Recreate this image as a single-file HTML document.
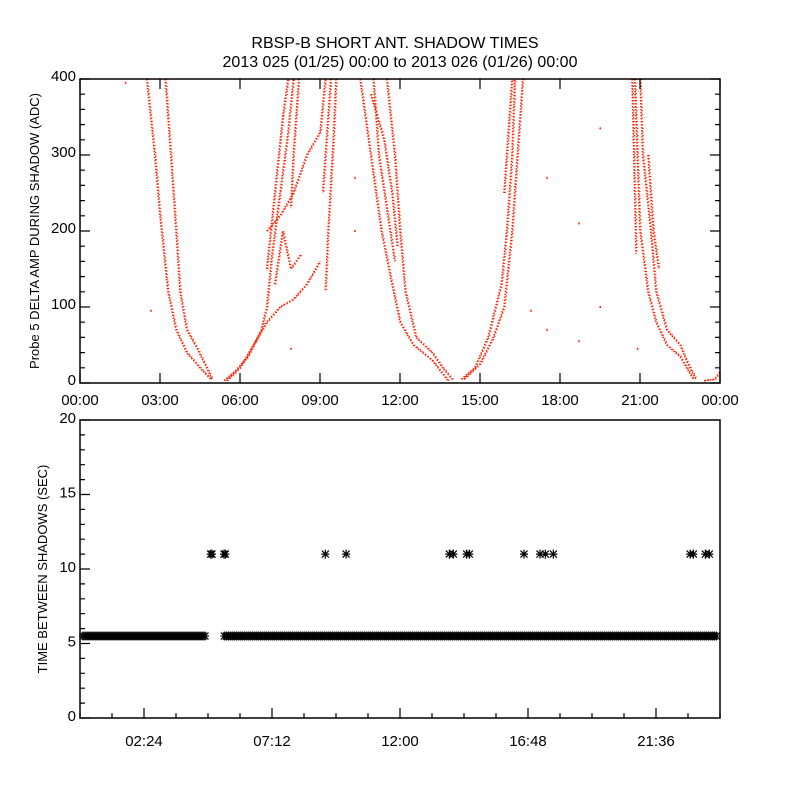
<!DOCTYPE html>
<html><head><meta charset="utf-8"><style>
body{margin:0;background:#fff;}
svg{display:block;font-family:"Liberation Sans",sans-serif;}
</style></head><body>
<svg id="chart" width="800" height="800" xmlns="http://www.w3.org/2000/svg">
<rect width="800" height="800" fill="#fff"/>
<text x="395" y="48" text-anchor="middle" font-size="16">RBSP-B SHORT ANT. SHADOW TIMES</text>
<text x="400" y="67" text-anchor="middle" font-size="16">2013 025 (01/25) 00:00 to 2013 026 (01/26) 00:00</text>
<g id="topPanel"></g>
<g id="botPanel"></g>
</svg>
<script>
// ---- Top panel data: traces of (hour, amplitude) ----
const traceA_h=[2.5,2.8,3.0,3.3,3.6,4.0,4.5,4.9];
const traceA_v=[400,300,220,120,70,40,20,5];
const traceB_h=[3.2,3.4,3.6,3.75,4.0,4.4,4.75,4.95];
const traceB_v=[400,300,200,120,70,45,20,5];
const traceC_h=[5.4,5.8,6.3,6.8,7.0,7.2,7.5,7.8,8.0];
const traceC_v=[3,15,35,70,100,170,250,330,400];
const traceD_h=[5.5,6.0,6.5,7.0,7.5,8.0,8.5,9.0];
const traceD_v=[3,20,50,80,100,110,130,160];
const traceE_h=[7.0,7.5,8.0,8.5,9.0,9.2];
const traceE_v=[200,220,250,300,330,400];
const traceF_h=[7.3,7.6,7.9,8.3];
const traceF_v=[130,200,150,170];
const traceG_h=[10.5,10.9,11.3,11.7,12.0,12.5,13.2,13.8];
const traceG_v=[400,300,200,130,80,50,30,3];
const traceH_h=[11.5,11.8,12.0,12.2,12.6,13.2,13.6,14.0];
const traceH_v=[400,300,200,120,60,40,20,3];
const traceN_h=[9.6,9.5,9.3,9.2];
const traceN_v=[400,320,200,120];
const traceO_h=[10.9,11.4,11.7,11.9];
const traceO_v=[380,320,250,180];
const traceI_h=[14.3,14.8,15.3,15.8,16.0,16.2,16.3];
const traceI_v=[5,20,60,130,200,300,400];
const traceJ_h=[14.4,15.0,15.5,15.9,16.2,16.4,16.6];
const traceJ_v=[5,25,60,100,200,300,400];
const traceK_h=[20.8,20.9,21.0,21.3,21.6,22.0,22.5,23.0];
const traceK_v=[400,300,200,120,80,50,35,5];
const traceL_h=[21.0,21.1,21.4,21.6,22.0,22.5,22.8,23.1];
const traceL_v=[400,300,200,120,70,50,25,5];
const traceM_h=[23.4,23.8,24.0];
const traceM_v=[3,5,15];
const traceP_h=[7.0,7.3,7.6,7.8];
const traceP_v=[150,250,350,400];
const traceQ_h=[8.2,8.0,7.9];
const traceQ_v=[400,300,230];
const traceR_h=[9.4,9.2,9.1];
const traceR_v=[400,300,250];
const traceS_h=[11.0,11.2,11.5,11.8];
const traceS_v=[400,300,230,160];
const traceT_h=[15.9,16.1,16.2];
const traceT_v=[250,350,400];
const traceU_h=[20.7,20.8,20.85];
const traceU_v=[400,250,170];
const traceV_h=[21.3,21.5,21.7];
const traceV_v=[300,200,150];
const stray_h=[1.7,2.65,17.5,18.7,19.5,16.9,17.5,18.7,19.5,20.9,10.3,10.3,7.9,6.6];
const stray_v=[395,95,270,210,335,95,70,55,100,45,270,200,45,55];
const topXTicks=["00:00","03:00","06:00","09:00","12:00","15:00","18:00","21:00","00:00"];
const topYTicks=[0,100,200,300,400];
// ---- Bottom panel data ----
const bandStart=[0.0,5.3];
const bandEnd=[4.85,24.0];
const bandValue=5.5;
const highTimes=[4.9,4.95,5.4,5.45,9.2,9.98,13.85,14.0,14.5,14.6,16.65,17.25,17.45,17.75,22.88,23.0,23.45,23.6];
const highValues=[11,11,11,11,11,11,11,11,11,11,11,11,11,11,11,11,11,11];
const botXTicks=["02:24","07:12","12:00","16:48","21:36"];
const botYTicks=[0,5,10,15,20];

const NS="http://www.w3.org/2000/svg";
function mk(parent,tag,attrs){const e=document.createElementNS(NS,tag);for(const k in attrs)e.setAttribute(k,attrs[k]);parent.appendChild(e);return e;}
const L=80,R=720;
const tx=h=>L+(R-L)*h/24;
const tT=79,tB=383;
const ty=v=>tB-(tB-tT)*v/400;
const bT=420,bB=718;
const by=v=>bB-(bB-bT)*v/20;

const topG=document.getElementById('topPanel');
const botG=document.getElementById('botPanel');

const traces=[[traceA_h,traceA_v],[traceB_h,traceB_v],[traceC_h,traceC_v],[traceD_h,traceD_v],[traceE_h,traceE_v],[traceF_h,traceF_v],[traceG_h,traceG_v],[traceH_h,traceH_v],[traceN_h,traceN_v],[traceO_h,traceO_v],[traceI_h,traceI_v],[traceJ_h,traceJ_v],[traceK_h,traceK_v],[traceL_h,traceL_v],[traceM_h,traceM_v],[traceP_h,traceP_v],[traceQ_h,traceQ_v],[traceR_h,traceR_v],[traceS_h,traceS_v],[traceT_h,traceT_v],[traceU_h,traceU_v],[traceV_h,traceV_v]];
traces.forEach((t,i)=>{
  [0,1].forEach(off=>{
    const pts=t[0].map((h,j)=>(tx(h)+off).toFixed(1)+','+(ty(t[1][j])).toFixed(1)).join(' ');
    const pl=mk(topG,'polyline',{points:pts,fill:'none',stroke:'#ff2000','stroke-width':'1.6','stroke-dasharray':off?'1 2.5':'1.5 1.5'});
    
    
  });
});
stray_h.forEach((h,i)=>{
  const r=mk(topG,'rect',{x:tx(h)-0.5,y:ty(stray_v[i])-1,width:1.5,height:2,fill:'#ff2000'});
  
  
});
const tf=mk(topG,'rect',{x:L,y:tT,width:R-L,height:tB-tT,fill:'none',stroke:'#000','stroke-width':'1.5'});


let d='';
for(let v=0;v<=400;v+=20){const y=ty(v);const len=v%100===0?10:5;d+=`M${L},${y}h${len}M${R},${y}h${-len}`;}
for(let h=0;h<=24;h+=3){const x=tx(h);d+=`M${x},${tB}v-10M${x},${tT}v10`;}
const tk=mk(topG,'path',{d:d,stroke:'#000','stroke-width':'1.2',fill:'none'});


topYTicks.forEach(v=>{const t=mk(topG,'text',{x:L-4,y:ty(v)+2,'text-anchor':'end','font-size':'15'});t.textContent=v;
  
  });
topXTicks.forEach((s,i)=>{const t=mk(topG,'text',{x:tx(i*3),y:405,'text-anchor':'middle','font-size':'15'});t.textContent=s;
  
  });
const yt1=mk(topG,'text',{x:0,y:0,transform:`translate(39,231) rotate(-90)`,'text-anchor':'middle','font-size':'13'});
yt1.textContent='Probe 5 DELTA AMP DURING SHADOW (ADC)';



function star(parent,x,y,name){
  const p=mk(parent,'path',{d:`M${x-4},${y}h8M${x},${y-4.5}v9M${x-3.5},${y-3.5}l7,7M${x-3.5},${y+3.5}l7,-7`,stroke:'#000','stroke-width':'1.2'});
  
  
}
bandStart.forEach((s,i)=>{
  for(let x=tx(s)+3;x<=tx(bandEnd[i])-3;x+=2) star(botG,x,by(bandValue),'band-asterisk');
});
highTimes.forEach((h,i)=>star(botG,tx(h),by(highValues[i]),'high-asterisk'));
const bf=mk(botG,'rect',{x:L,y:bT,width:R-L,height:bB-bT,fill:'none',stroke:'#000','stroke-width':'1.5'});


d='';
for(let v=0;v<=20;v+=1){const y=by(v);const len=v%5===0?10:5;d+=`M${L},${y}h${len}`;}
for(let k=0;k<=20;k++){const h=k*1.2;const x=tx(h);const len=(k%4===2)?10:5;d+=`M${x},${bB}v${-len}`;}
const bk=mk(botG,'path',{d:d,stroke:'#000','stroke-width':'1.2',fill:'none'});


botYTicks.forEach(v=>{const t=mk(botG,'text',{x:L-4,y:by(v)+3,'text-anchor':'end','font-size':'15'});t.textContent=v;
  
  });
botXTicks.forEach((s,i)=>{const t=mk(botG,'text',{x:tx(2.4+i*4.8),y:746,'text-anchor':'middle','font-size':'15'});t.textContent=s;
  
  });
const yt2=mk(botG,'text',{x:0,y:0,transform:`translate(47,569) rotate(-90)`,'text-anchor':'middle','font-size':'13'});
yt2.textContent='TIME BETWEEN SHADOWS (SEC)';


</script>
</body></html>
